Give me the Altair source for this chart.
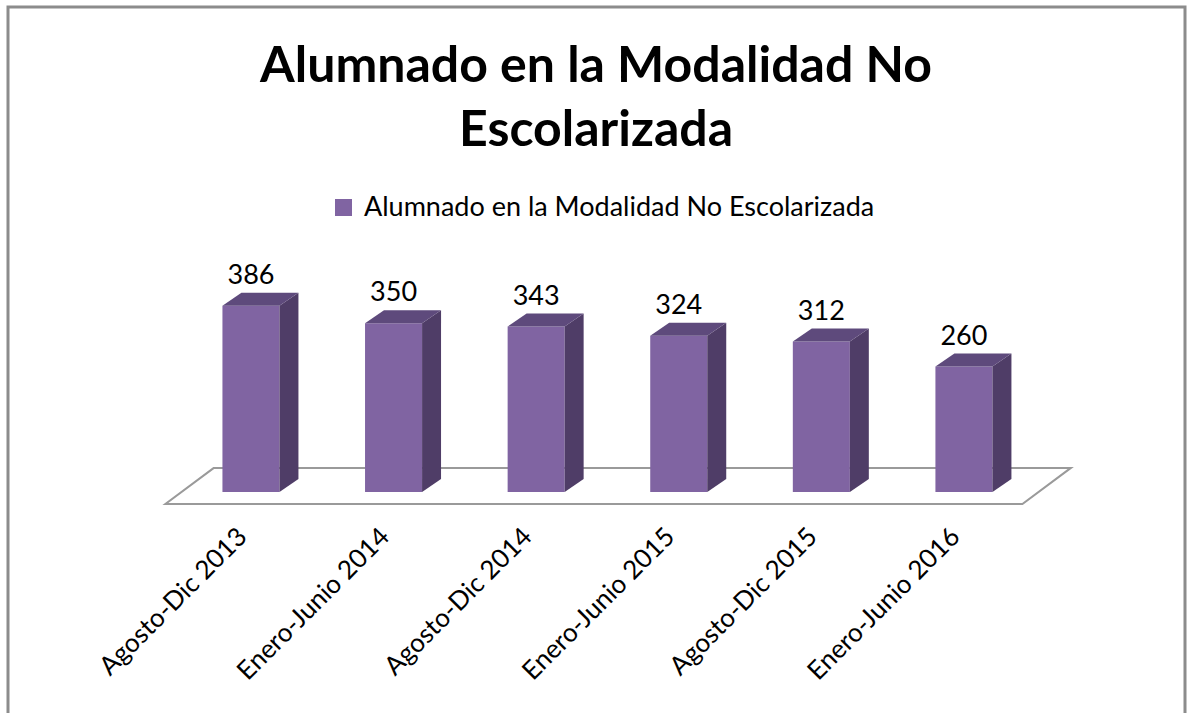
import json
import altair as alt
import pandas as pd

# ---- data ----
categorias = ["Agosto-Dic 2013", "Enero-Junio 2014", "Agosto-Dic 2014",
              "Enero-Junio 2015", "Agosto-Dic 2015", "Enero-Junio 2016"]
valores = [386, 350, 343, 324, 312, 260]
serie = "Alumnado en la Modalidad No Escolarizada"
titulo = ["Alumnado en la Modalidad No", "Escolarizada"]

# ---- style / layout ----
FRONT = "#8064A2"
SIDE = "#4F3D67"
TOP = "#5E4A7C"
FONT = "Lato"
W, H = 940, 260
PADL, PADT, PADR, PADB = 150, 250, 98, 203
HALF = 0.2      # half bar width (category units)
DX = 0.133      # 3D depth, x (category units)
DY = 27         # 3D depth, y (value units)

n = len(categorias)
idx = list(range(n))

xscale = alt.Scale(domain=[-0.708, 5.884], nice=False, zero=False)
yscale = alt.Scale(domain=[-37.3, 501.7], nice=False, zero=False)

label_expr = json.dumps(categorias) + "[round(datum.value)]"
xaxis = alt.Axis(values=idx, labelExpr=label_expr, labelAngle=-45, labelFont=FONT,
                 labelFontSize=26, labelColor="#000000", ticks=False, domain=False,
                 grid=False, labelPadding=13, labelOffset=-18, labelLimit=0,
                 labelOverlap=False, title=None)

# front faces
front = pd.DataFrame({"cat": categorias, "i": idx, "v": valores, "serie": serie})
front["x0"] = front["i"] - HALF
front["x1"] = front["i"] + HALF
front["base"] = 0

# side faces (two points per bar)
side_rows = []
for c, i, v in zip(categorias, idx, valores):
    side_rows.append({"cat": c, "xs": i + HALF, "ys": v, "ys2": 0})
    side_rows.append({"cat": c, "xs": i + HALF + DX, "ys": v + DY, "ys2": DY})
side = pd.DataFrame(side_rows)

# top faces
top_rows = []
for c, i, v in zip(categorias, idx, valores):
    top_rows.append({"cat": c, "yt": v, "xl": i - HALF, "xr": i + HALF})
    top_rows.append({"cat": c, "yt": v + DY, "xl": i - HALF + DX, "xr": i + HALF + DX})
topf = pd.DataFrame(top_rows)

# floor
FL_Y0, FL_Y1 = -25, 50
FL_L, FL_R, FL_SHIFT = -0.6, n - 1 + 0.41, 0.34
floor = pd.DataFrame({"fy": [FL_Y0, FL_Y1],
                      "fx": [FL_L, FL_L + FL_SHIFT],
                      "fx2": [FL_R, FL_R + FL_SHIFT]})

floor_layer = alt.Chart(floor).mark_area(
    orient="horizontal", fill="#ffffff", stroke="#9a9a9a", strokeWidth=2
).encode(
    y=alt.Y("fy:Q", scale=yscale, axis=None, stack=False),
    x=alt.X("fx:Q", scale=xscale, axis=xaxis),
    x2="fx2:Q",
)

front_layer = alt.Chart(front).mark_rect(fillOpacity=1).encode(
    x=alt.X("x0:Q", scale=xscale, axis=xaxis),
    x2="x1:Q",
    y=alt.Y("v:Q", scale=yscale, axis=None, stack=False),
    y2="base:Q",
    color=alt.Color("serie:N", scale=alt.Scale(range=[FRONT]),
                    legend=alt.Legend(title=None, orient="none", legendX=180, legendY=-56,
                                      symbolType="square", symbolSize=289,
                                      symbolStrokeWidth=0, labelFont=FONT,
                                      labelFontSize=27, labelColor="#000000",
                                      labelOffset=7, labelLimit=0)),
)

side_layer = alt.Chart(side).mark_area(orient="vertical", color=SIDE).encode(
    x=alt.X("xs:Q", scale=xscale, axis=xaxis),
    y=alt.Y("ys:Q", scale=yscale, axis=None, stack=False),
    y2="ys2:Q",
    detail="cat:N",
)

top_layer = alt.Chart(topf).mark_area(orient="horizontal", color=TOP).encode(
    y=alt.Y("yt:Q", scale=yscale, axis=None, stack=False),
    x=alt.X("xl:Q", scale=xscale, axis=xaxis),
    x2="xr:Q",
    detail="cat:N",
)

labels_layer = alt.Chart(front).mark_text(
    font=FONT, fontSize=27, color="#000000", baseline="alphabetic", align="center", dy=-22
).encode(
    x=alt.X("i:Q", scale=xscale, axis=xaxis),
    y=alt.Y("v:Q", scale=yscale, axis=None, stack=False),
    text="v:Q",
)

one = pd.DataFrame({"k": [0]})
title_layer = alt.Chart(one).mark_text(
    font=FONT, fontSize=50, fontWeight="bold", color="#000000",
    align="center", baseline="alphabetic", lineHeight=64
).encode(
    x=alt.value(596 - PADL),
    y=alt.value(82 - PADT),
    text=alt.value(titulo),
)

border_layer = alt.Chart(one).mark_rect(
    fill="transparent", stroke="#8c8c8c", strokeWidth=3
).encode(
    x=alt.value(8 - PADL),
    x2=alt.value(1185 - PADL),
    y=alt.value(7 - PADT),
    y2=alt.value(730 - PADT),
)

chart = alt.layer(
    border_layer, floor_layer, front_layer, side_layer, top_layer, labels_layer, title_layer
).properties(
    width=W, height=H,
    autosize=alt.AutoSizeParams(type="none"),
    padding={"left": PADL, "top": PADT, "right": PADR, "bottom": PADB},
    background="#ffffff",
).configure_view(stroke=None)

chart.save("out.html", embed_options={"renderer": "svg", "actions": False})
